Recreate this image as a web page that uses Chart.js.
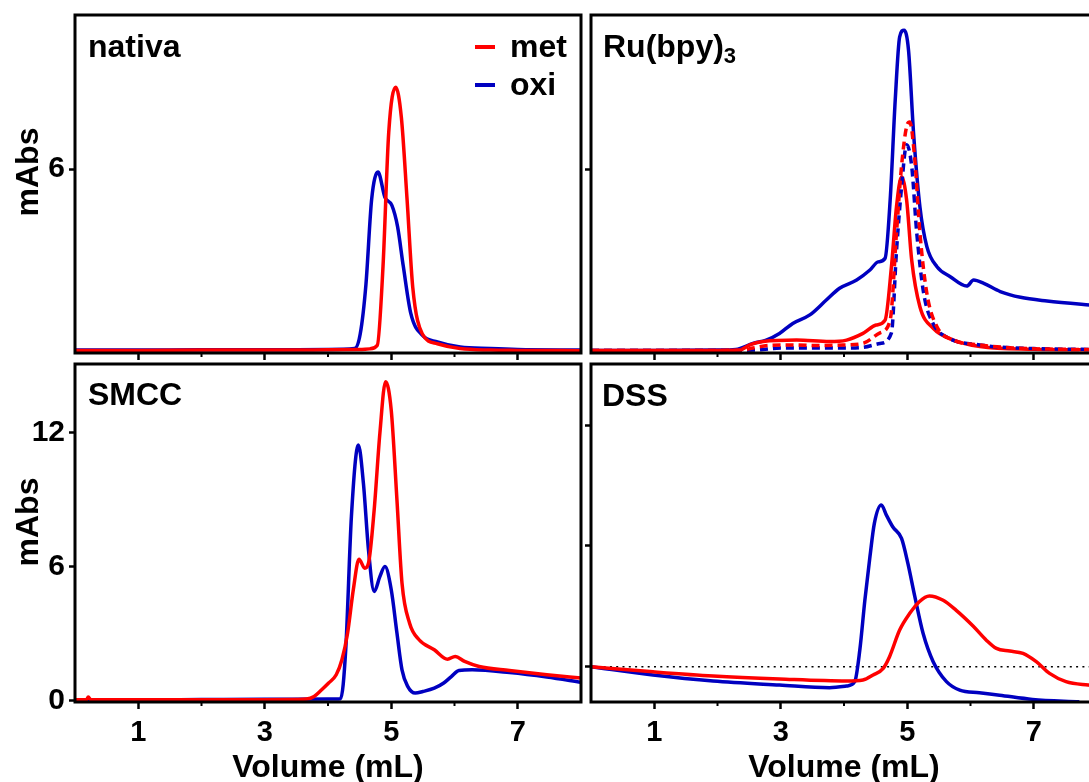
<!DOCTYPE html>
<html>
<head>
<meta charset="utf-8">
<script src="https://cdn.jsdelivr.net/npm/chart.js@4.4.0/dist/chart.umd.min.js"></script>
<style>
  html, body { margin: 0; padding: 0; background: #fff; width: 1089px; height: 782px; overflow: hidden; }
  body { position: relative; font-family: "Liberation Sans", Arial, sans-serif; }
  canvas { position: absolute; }
  .lbl { position: absolute; font-weight: bold; font-size: 32px; line-height: 32px; color: #000; white-space: nowrap; }
  .lbl sub { font-size: 22px; vertical-align: baseline; position: relative; top: 6px; }
  .ylab { position: absolute; width: 100px; height: 32px; text-align: center; transform: rotate(-90deg); }
  .dash { position: absolute; width: 20px; height: 4px; }
</style>
</head>
<body>
<canvas id="nativa" width="590" height="360" style="left:0;top:0"></canvas>
<canvas id="ru" width="520" height="360" style="left:585px;top:0"></canvas>
<canvas id="smcc" width="590" height="430" style="left:0;top:358px"></canvas>
<canvas id="dss" width="520" height="430" style="left:585px;top:358px"></canvas>

<div class="lbl" style="left:88px;top:30px">nativa</div>
<div class="lbl" style="left:603px;top:30px">Ru(bpy)<sub>3</sub></div>
<div class="lbl" style="left:88px;top:378px">SMCC</div>
<div class="lbl" style="left:602px;top:379px">DSS</div>
<div class="lbl ylab" style="left:-23px;top:156px">mAbs</div>
<div class="lbl ylab" style="left:-23px;top:506px">mAbs</div>
<!-- legend -->
<div class="dash" style="left:475px;top:45px;background:#ff0000"></div>
<div class="lbl" style="left:510px;top:30px">met</div>
<div class="dash" style="left:475px;top:83px;background:#0000c0"></div>
<div class="lbl" style="left:510px;top:68px">oxi</div>

<script>
// data (volume in mL, absorbance in mAbs)

// nativa
const nativaMetX = [0, 1, 2, 3, 4, 4.5, 4.66, 4.78, 4.87, 4.96, 5.07, 5.16, 5.25, 5.34, 5.49, 5.73, 6.09, 6.57, 7, 8];
const nativaMetY = [0.02, 0.02, 0.03, 0.03, 0.04, 0.05, 0.07, 0.19, 2.8, 7.2, 8.7, 7.7, 5.0, 2.1, 0.57, 0.24, 0.08, 0.03, 0.02, 0.01];
const nativaOxiX = [0, 1, 2, 3, 4, 4.42, 4.51, 4.6, 4.69, 4.79, 4.9, 5.01, 5.1, 5.19, 5.31, 5.49, 5.73, 6.09, 6.57, 7, 8];
const nativaOxiY = [0.03, 0.03, 0.04, 0.04, 0.05, 0.08, 0.57, 2.2, 5.0, 5.9, 5.07, 4.8, 4.1, 2.8, 1.23, 0.52, 0.30, 0.13, 0.08, 0.05, 0.03];

// Ru(bpy)3, solid = before, dashed = after
const ruMetX = [0, 1, 2, 2.35, 2.51, 2.72, 3.25, 3.77, 4.04, 4.3, 4.51, 4.65, 4.75, 4.83, 4.91, 4.99, 5.07, 5.2, 5.41, 5.73, 6.15, 7, 8];
const ruMetY = [0.02, 0.02, 0.02, 0.03, 0.2, 0.31, 0.36, 0.31, 0.36, 0.58, 0.86, 1.02, 2.78, 4.76, 5.75, 4.98, 3.0, 1.46, 0.75, 0.36, 0.15, 0.06, 0.04];
const ruOxiX = [0, 1, 2, 2.29, 2.56, 2.77, 2.98, 3.19, 3.46, 3.72, 3.93, 4.2, 4.41, 4.54, 4.65, 4.73, 4.81, 4.88, 4.95, 5.02, 5.1, 5.2, 5.31, 5.47, 5.68, 5.94, 6.05, 6.21, 6.47, 6.79, 7.21, 7.88, 8];
const ruOxiY = [0.02, 0.02, 0.03, 0.05, 0.25, 0.36, 0.58, 0.91, 1.19, 1.68, 2.07, 2.34, 2.67, 2.94, 3.06, 4.98, 8.28, 10.36, 10.58, 9.92, 7.18, 4.76, 3.44, 2.78, 2.45, 2.14, 2.34, 2.23, 1.96, 1.77, 1.65, 1.52, 1.5];
const ruMetDashX = [0, 1, 2, 2.4, 2.56, 2.8, 3.2, 3.6, 4.0, 4.3, 4.57, 4.73, 4.83, 4.91, 4.99, 5.04, 5.12, 5.2, 5.31, 5.47, 5.73, 6.15, 6.68, 7.3, 8];
const ruMetDashY = [0.02, 0.02, 0.02, 0.03, 0.1, 0.18, 0.2, 0.18, 0.2, 0.25, 0.6, 1.02, 3.9, 6.1, 7.4, 7.55, 6.3, 3.9, 1.9, 0.8, 0.36, 0.2, 0.1, 0.06, 0.05];
const ruOxiDashX = [0, 1, 2, 2.6, 2.72, 3.0, 3.5, 4.0, 4.3, 4.57, 4.75, 4.83, 4.91, 4.99, 5.07, 5.15, 5.26, 5.41, 5.63, 6.15, 7, 8];
const ruOxiDashY = [0.02, 0.02, 0.02, 0.03, 0.05, 0.1, 0.1, 0.1, 0.12, 0.25, 0.6, 3.3, 5.4, 6.8, 6.1, 3.9, 1.9, 0.9, 0.45, 0.2, 0.08, 0.05];

// SMCC
const smccMetX = [0, 0.18, 0.21, 0.25, 1, 2, 3, 3.5, 3.66, 3.78, 3.9, 4.01, 4.13, 4.22, 4.31, 4.4, 4.49, 4.58, 4.64, 4.73, 4.82, 4.91, 5.0, 5.09, 5.17, 5.29, 5.44, 5.68, 5.89, 6.01, 6.16, 6.39, 6.87, 7.46, 8];
const smccMetY = [0.03, 0.03, 0.15, 0.03, 0.03, 0.03, 0.03, 0.04, 0.06, 0.18, 0.48, 0.78, 1.15, 1.82, 3.02, 4.96, 6.33, 5.93, 6.15, 8.54, 11.97, 14.29, 13.0, 8.99, 5.26, 3.46, 2.72, 2.27, 1.85, 1.97, 1.75, 1.52, 1.34, 1.15, 1.0];
const smccOxiX = [0, 1, 2, 3, 4, 4.2, 4.28, 4.37, 4.48, 4.56, 4.64, 4.73, 4.82, 4.9, 5.0, 5.09, 5.17, 5.26, 5.38, 5.5, 5.68, 5.83, 5.95, 6.07, 6.28, 6.87, 7.46, 8];
const smccOxiY = [0.03, 0.03, 0.04, 0.05, 0.06, 0.08, 2.27, 8.24, 11.45, 9.73, 6.75, 4.88, 5.55, 6.0, 4.96, 3.02, 1.37, 0.63, 0.33, 0.40, 0.55, 0.78, 1.07, 1.34, 1.37, 1.25, 1.05, 0.81];

// DSS
const dssMetX = [0, 0.98, 1.93, 2.98, 4.04, 4.3, 4.46, 4.62, 4.72, 4.88, 5.04, 5.19, 5.35, 5.56, 5.77, 6.04, 6.25, 6.41, 6.62, 6.83, 7.04, 7.25, 7.51, 7.86, 8];
const dssMetY = [0, -0.25, -0.46, -0.61, -0.71, -0.66, -0.41, -0.08, 0.5, 1.82, 2.65, 3.23, 3.51, 3.31, 2.81, 2.02, 1.32, 0.91, 0.78, 0.66, 0.25, -0.33, -0.74, -0.91, -0.95];
const dssOxiX = [0, 0.98, 1.93, 2.98, 3.77, 4.04, 4.17, 4.25, 4.33, 4.41, 4.48, 4.59, 4.67, 4.77, 4.91, 5.01, 5.12, 5.25, 5.41, 5.62, 5.83, 6.14, 6.46, 6.98, 7.72];
const dssOxiY = [0, -0.41, -0.71, -0.91, -1.04, -0.96, -0.74, 0.83, 3.31, 5.46, 7.12, 8.03, 7.53, 6.95, 6.37, 5.13, 3.48, 1.66, 0.25, -0.74, -1.16, -1.29, -1.41, -1.62, -1.74];
const dssZeroX = [0, 8];
const dssZeroY = [0, 0];

// axis ticks
const topYTicks = [6];
const bottomYTicks = [0, 6, 12];
const minorXTicks = [2, 4, 6];

Chart.defaults.font.family = '"Liberation Sans", Arial, sans-serif';
Chart.defaults.color = '#000';

const RED = '#ff0000';
const BLUE = '#0000c0';

function pts(xs, ys) {
  return xs.map((x, i) => ({ x: x, y: ys[i] }));
}

function line(xs, ys, color, dash, width) {
  return {
    data: pts(xs, ys),
    borderColor: color,
    borderWidth: width || 3.5,
    borderDash: dash || [],
    pointRadius: 0,
    fill: false,
    cubicInterpolationMode: 'monotone'
  };
}

// black frame round the plot + short minor ticks
const framePlugin = {
  id: 'frame',
  afterDraw(chart) {
    const ctx = chart.ctx;
    const a = chart.chartArea;
    ctx.save();
    ctx.strokeStyle = '#000';
    ctx.lineWidth = 3;
    ctx.strokeRect(a.left, a.top, a.right - a.left, a.bottom - a.top);
    ctx.lineWidth = 2;
    minorXTicks.forEach(v => {
      const px = chart.scales.x.getPixelForValue(v);
      ctx.beginPath();
      ctx.moveTo(px, a.bottom);
      ctx.lineTo(px, a.bottom + 4);
      ctx.stroke();
    });
    ctx.restore();
  }
};

function makePanel(id, datasets, o) {
  const ctx = document.getElementById(id).getContext('2d');
  return new Chart(ctx, {
    type: 'line',
    data: { datasets: datasets },
    options: {
      responsive: false,
      animation: false,
      events: [],
      layout: { padding: o.padding },
      plugins: { legend: { display: false }, tooltip: { enabled: false } },
      scales: {
        x: {
          type: 'linear',
          min: 0,
          max: 8,
          border: { display: false },
          grid: {
            drawOnChartArea: false,
            tickLength: 7,
            tickWidth: 2.5,
            tickColor: c => (c.tick && c.tick.value % 2 === 1) ? '#000' : 'rgba(0,0,0,0)'
          },
          ticks: {
            display: o.xLabels,
            stepSize: 1,
            autoSkip: false,
            maxRotation: 0,
            padding: 7,
            font: { size: 29, weight: 'bold' },
            callback: v => (v % 2 === 1 ? String(v) : '')
          },
          title: {
            display: o.xLabels,
            text: 'Volume (mL)',
            font: { size: 32, weight: 'bold' },
            padding: { top: 0, bottom: 1 }
          },
          afterFit: s => {
            s.height = o.xHeight;
            s.paddingLeft = 0;
            s.paddingRight = 0;
          }
        },
        y: {
          type: 'linear',
          min: o.yMin,
          max: o.yMax,
          border: { display: false },
          grid: { drawOnChartArea: false, tickLength: 6, tickWidth: 2.5, tickColor: '#000' },
          ticks: {
            display: o.yLabels,
            padding: 4,
            font: { size: 30, weight: 'bold' },
            callback: v => String(v)
          },
          afterBuildTicks: s => { s.ticks = o.yTicks.map(v => ({ value: v })); },
          afterFit: s => {
            s.width = o.yWidth;
            s.paddingTop = 0;
            s.paddingBottom = 0;
          }
        }
      }
    },
    plugins: [framePlugin]
  });
}

// NATIVA
makePanel('nativa', [
  line(nativaMetX, nativaMetY, RED),
  line(nativaOxiX, nativaOxiY, BLUE)
], { yMin: -0.066, yMax: 11.08, yTicks: topYTicks, yLabels: true, xLabels: false,
     yWidth: 75, xHeight: 7, padding: { left: 0, top: 15, right: 9, bottom: 0 } });

// RU(BPY)3
makePanel('ru', [
  line(ruMetDashX, ruMetDashY, RED, [8, 5]),
  line(ruOxiDashX, ruOxiDashY, BLUE, [8, 5]),
  line(ruMetX, ruMetY, RED),
  line(ruOxiX, ruOxiY, BLUE)
], { yMin: -0.066, yMax: 11.08, yTicks: topYTicks, yLabels: false, xLabels: false,
     yWidth: 6, xHeight: 7, padding: { left: 0, top: 15, right: 8, bottom: 0 } });

// SMCC
makePanel('smcc', [
  line(smccMetX, smccMetY, RED),
  line(smccOxiX, smccOxiY, BLUE)
], { yMin: -0.07, yMax: 15.08, yTicks: bottomYTicks, yLabels: true, xLabels: true,
     yWidth: 75, xHeight: 86, padding: { left: 0, top: 6, right: 9, bottom: 0 } });

// DSS
makePanel('dss', [
  line(dssMetX, dssMetY, RED),
  line(dssOxiX, dssOxiY, BLUE),
  line(dssZeroX, dssZeroY, '#000', [2, 4.3], 1.5)
], { yMin: -1.75, yMax: 15.03, yTicks: bottomYTicks, yLabels: false, xLabels: true,
     yWidth: 6, xHeight: 86, padding: { left: 0, top: 6, right: 8, bottom: 0 } });
</script>
</body>
</html>
